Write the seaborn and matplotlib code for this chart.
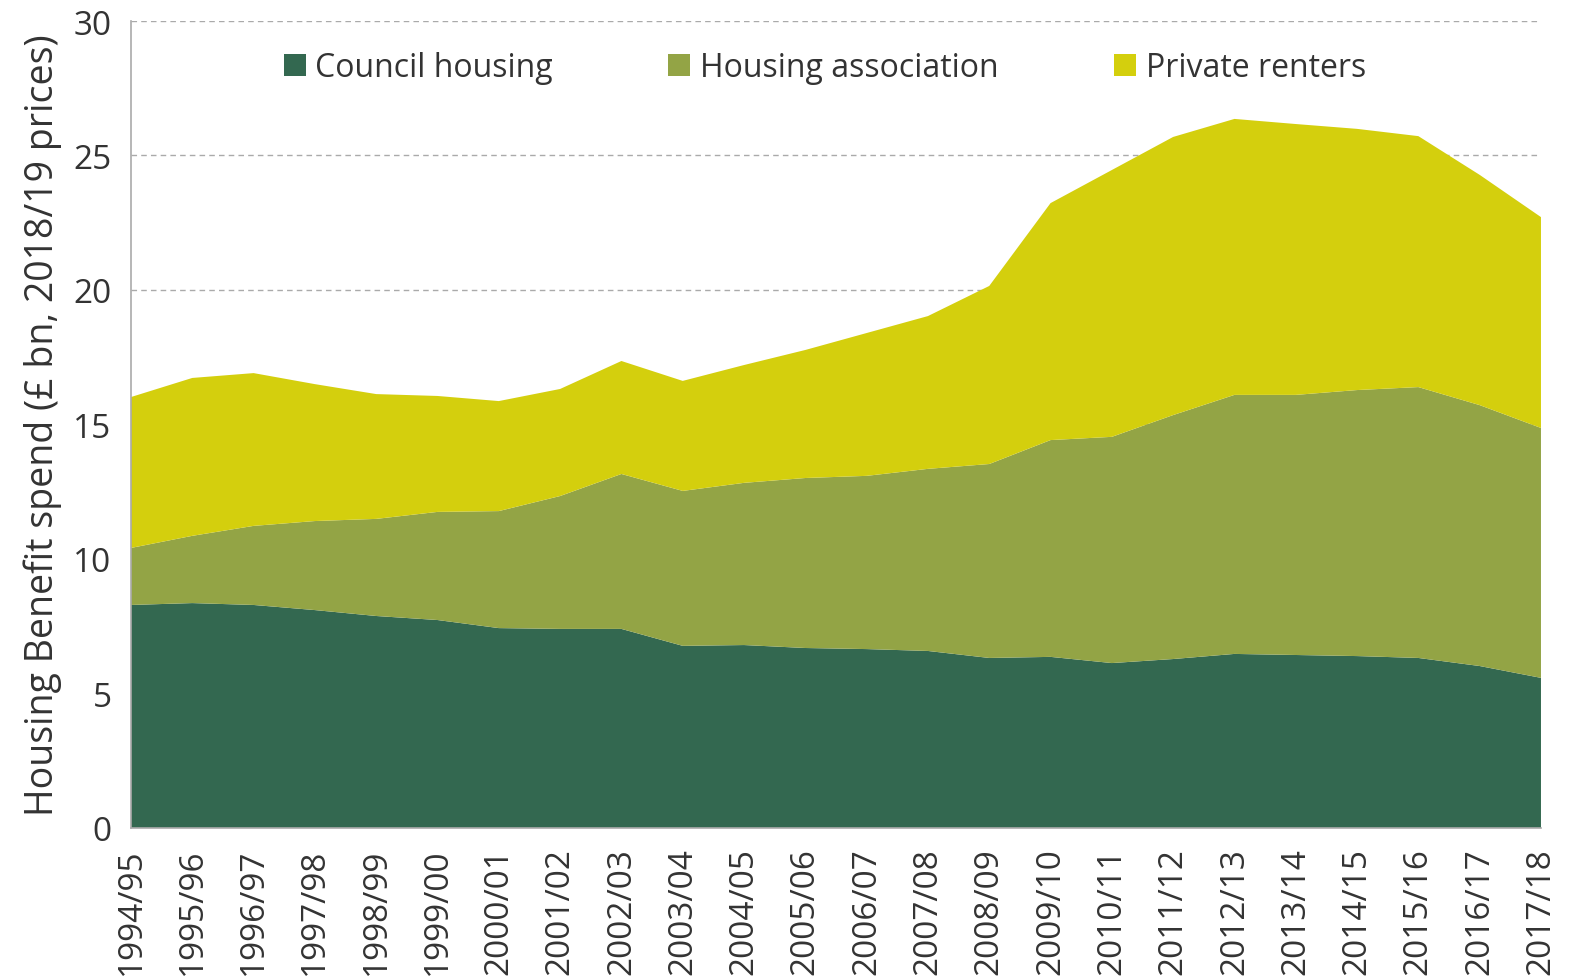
import numpy as np
import pandas as pd
import matplotlib
matplotlib.use("Agg")
import matplotlib.pyplot as plt
import seaborn as sns

years = ["1994/95", "1995/96", "1996/97", "1997/98", "1998/99", "1999/00",
         "2000/01", "2001/02", "2002/03", "2003/04", "2004/05", "2005/06",
         "2006/07", "2007/08", "2008/09", "2009/10", "2010/11", "2011/12",
         "2012/13", "2013/14", "2014/15", "2015/16", "2016/17", "2017/18"]

# (cumulative tops converted to per-tenure values below)
council = [8.29, 8.36, 8.29, 8.10, 7.88, 7.73, 7.43, 7.40, 7.40, 6.77, 6.80, 6.69,
           6.65, 6.58, 6.32, 6.36, 6.13, 6.28, 6.47, 6.43, 6.39, 6.32, 6.02, 5.58]
housing_assoc_top = [10.41, 10.86, 11.23, 11.41, 11.49, 11.75, 11.78, 12.34, 13.16,
                     12.53, 12.83, 13.01, 13.09, 13.35, 13.53, 14.42, 14.54, 15.35,
                     16.10, 16.10, 16.28, 16.39, 15.72, 14.87]
total_top = [16.02, 16.73, 16.91, 16.50, 16.13, 16.06, 15.87, 16.32, 17.36, 16.62,
             17.21, 17.77, 18.40, 19.03, 20.15, 23.23, 24.46, 25.69, 26.36, 26.17,
             25.99, 25.72, 24.28, 22.71]

df = pd.DataFrame({"year": years, "Council housing": council,
                   "Housing association": np.array(housing_assoc_top) - np.array(council),
                   "Private renters": np.array(total_top) - np.array(housing_assoc_top)})

colors = ["#336850", "#93a445", "#d4cf0d"]
labels = ["Council housing", "Housing association", "Private renters"]

sns.set_theme(style="white")
plt.rcParams["font.family"] = ["Open Sans", "DejaVu Sans"]

fig = plt.figure(figsize=(15.8, 9.78), dpi=100)
ax = fig.add_axes([0.0829, 0.1524, 0.8924, 0.8251])

x = np.arange(len(years))
ax.stackplot(x, df[labels].T.values, colors=colors, labels=labels, zorder=2,
             linewidth=0, edgecolor="none")

ax.set_xlim(0, len(years) - 1)
ax.set_ylim(0, 30)
ax.set_yticks([0, 5, 10, 15, 20, 25, 30])
ax.set_xticks(x)
ax.set_xticklabels(years, rotation=90)
ax.tick_params(axis="both", labelsize=24, length=9, width=1.2,
               direction="out", pad=5)
ax.tick_params(axis="x", color="#aaaaaa")
ax.tick_params(axis="y", color="#aaaaaa")
for t in ax.get_xticklabels() + ax.get_yticklabels():
    t.set_color("#333333")

for yv in [5, 10, 15, 20, 25, 30]:
    ax.axhline(yv, color="#aaaaaa", lw=1, ls=(0, (4, 3)), zorder=1)

for s in ["top", "right"]:
    ax.spines[s].set_visible(False)
for s in ["left", "bottom"]:
    ax.spines[s].set_color("#aaaaaa")
    ax.spines[s].set_linewidth(1.2)
    ax.spines[s].set_zorder(3)

ax.set_ylabel("Housing Benefit spend (£ bn, 2018/19 prices)", fontsize=27,
              color="#333333", labelpad=8)

ax.legend(loc="upper center", bbox_to_anchor=(0.492, 0.998), ncol=3, frameon=False,
          fontsize=23, handlelength=0.7, handleheight=0.7, handletextpad=0.3,
          columnspacing=3.6, labelcolor="#333333")

fig.savefig("out.png", dpi=100)
